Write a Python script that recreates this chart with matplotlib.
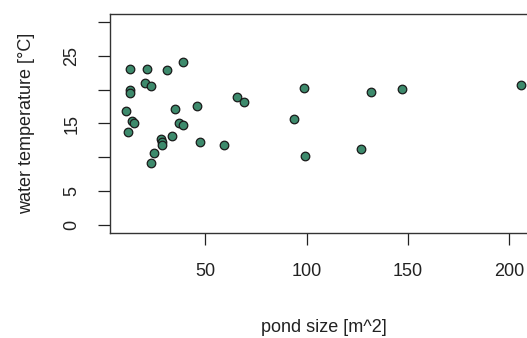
import matplotlib.pyplot as plt

plt.rcParams['font.family'] = ['Liberation Sans', 'DejaVu Sans']

# pond survey: surface area vs. water temperature
pond_size = [12.7, 21.3, 31.2, 38.7, 20.0, 23.0, 12.7, 12.7, 10.6, 34.7,
             13.6, 14.7, 11.6, 36.7, 38.9, 45.9, 33.2, 27.8, 28.6, 28.3,
             24.6, 23.0, 47.1, 59.3, 65.7, 69.2, 93.8, 98.5, 99.3, 127.1,
             131.6, 147.0, 206.1]
water_temp = [23.1, 23.1, 22.9, 24.1, 21.0, 20.6, 20.0, 19.5, 16.9, 17.1,
              15.4, 15.1, 13.8, 15.0, 14.8, 17.6, 13.2, 12.7, 12.3, 11.8,
              10.6, 9.1, 12.2, 11.8, 18.9, 18.2, 15.6, 20.3, 10.2, 11.2,
              19.7, 20.1, 20.7]

x_ticks = [50, 100, 150, 200]
y_ticks = [0, 5, 10, 15, 20, 25, 30]
y_ticklabels = ['0', '5', '', '15', '', '25', '']

fig = plt.figure(figsize=(5.27, 3.38), dpi=100)
W, H = 527, 338
ax = fig.add_axes([110 / W, 1 - 233 / H, (537 - 110) / W, (233 - 14) / H])

ax.scatter(pond_size, water_temp, s=38, c='#3d8a6c', edgecolors='#1a1a1a',
           linewidths=0.9, zorder=3)

# R-style 4% padding around the data/tick range
xr = max(pond_size) - min(pond_size)
ax.set_xlim(min(pond_size) - 0.04 * xr, max(pond_size) + 0.04 * xr)
ax.set_ylim(-1.2, 31.2)

ax.set_xticks(x_ticks)
ax.set_xticklabels([str(v) for v in x_ticks])
ax.set_yticks(y_ticks)
ax.set_yticklabels(y_ticklabels, rotation=90, va='center')

ax.tick_params(axis='both', direction='out', length=8.5, width=0.9,
               color='#222222', labelsize=13, labelcolor='#222222')
ax.tick_params(axis='x', pad=13)
ax.tick_params(axis='y', pad=13)

for sp in ax.spines.values():
    sp.set_linewidth(1.0)
    sp.set_color('#333333')

ax.set_xlabel('pond size [m^2]', fontsize=13, color='#222222', labelpad=28)
ax.set_ylabel('water temperature [°C]', fontsize=13, color='#222222', labelpad=20)

fig.savefig('out.png', dpi=100)
